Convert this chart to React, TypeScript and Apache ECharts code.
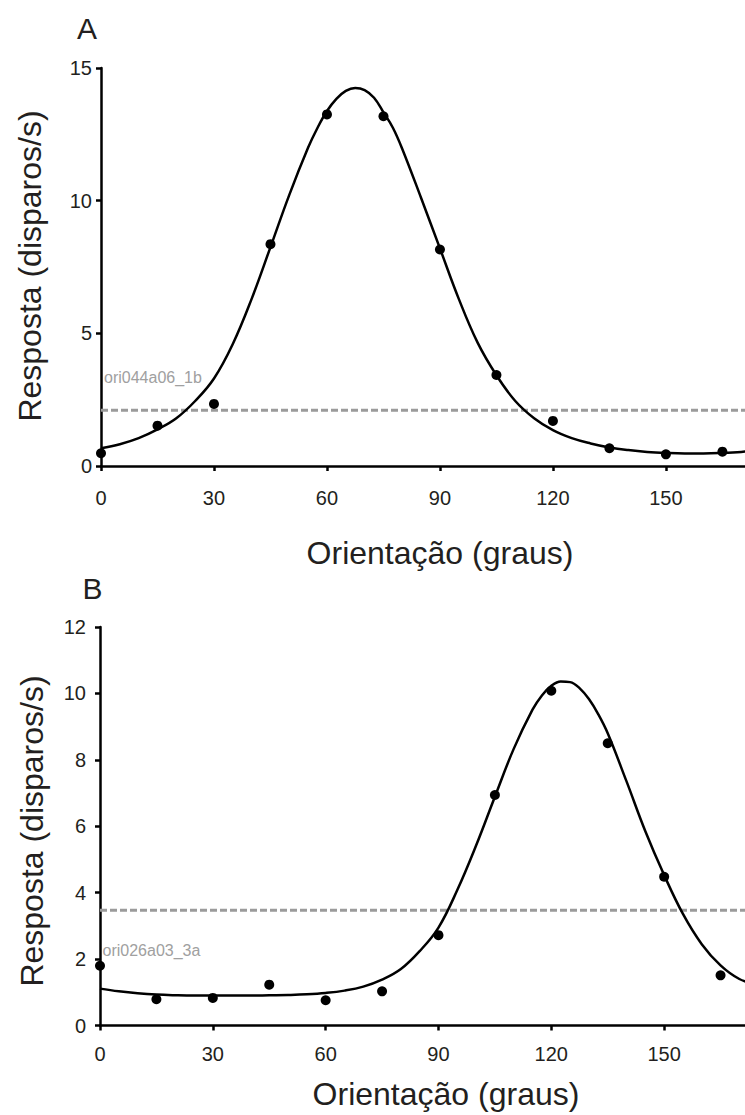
import React, { useEffect, useRef } from "react";
import * as echarts from "echarts";

// ---- data ----
const orientations = [0, 15, 30, 45, 60, 75, 90, 105, 120, 135, 150, 165];
const responseA = [0.48, 1.52, 2.34, 8.36, 13.25, 13.18, 8.16, 3.43, 1.7, 0.67, 0.44, 0.54];
const responseB = [1.8, 0.79, 0.83, 1.23, 0.76, 1.03, 2.72, 6.94, 10.08, 8.5, 4.48, 1.51];

const fitAnglesA = [0, 5, 10, 15, 20, 25, 30, 35, 40, 45, 50, 55, 57.5, 60, 62.5, 65, 67.5, 70, 72.5, 75, 77.5, 80, 85, 90, 95, 100, 105, 110, 115, 120, 125, 130, 135, 140, 145, 150, 155, 160, 165, 170, 175, 180];
const fitA = [0.67, 0.82, 1.05, 1.38, 1.8, 2.45, 3.3, 4.6, 6.3, 8.25, 10.22, 12.0, 12.75, 13.38, 13.84, 14.14, 14.25, 14.17, 13.88, 13.33, 12.75, 11.95, 10.1, 8.2, 6.3, 4.65, 3.42, 2.45, 1.8, 1.35, 1.05, 0.85, 0.7, 0.6, 0.53, 0.49, 0.47, 0.47, 0.49, 0.53, 0.6, 0.67];

const fitAnglesB = [0, 5, 10, 15, 20, 25, 30, 35, 40, 45, 50, 55, 60, 65, 70, 75, 80, 85, 90, 95, 100, 105, 110, 115, 117.5, 120, 122.5, 125, 127.5, 130, 132.5, 135, 140, 145, 150, 155, 160, 165, 170, 175, 180];
const fitB = [1.11, 1.03, 0.97, 0.93, 0.91, 0.9, 0.9, 0.9, 0.9, 0.91, 0.92, 0.94, 0.98, 1.05, 1.17, 1.38, 1.7, 2.24, 2.95, 4.08, 5.42, 6.89, 8.33, 9.51, 9.94, 10.23, 10.36, 10.34, 10.16, 9.83, 9.37, 8.8, 7.35, 5.85, 4.53, 3.36, 2.45, 1.81, 1.4, 1.22, 1.11];

const thresholdA = 2.1;
const thresholdB = 3.47;

const xTickLabels = [0, 30, 60, 90, 120, 150];
const yTicksA = [0, 5, 10, 15];
const yTicksB = [0, 2, 4, 6, 8, 10, 12];

const panelLabels = ["A", "B"];
const cellNames = ["ori044a06_1b", "ori026a03_3a"];
const xTitle = "Orientação (graus)";
const yTitle = "Resposta (disparos/s)";

const FONT = "'Liberation Sans', Arial, Helvetica, sans-serif";
const TEXT = "#231f20";

function xAxisCfg(gridIndex: number, max: number, margin: number) {
  return {
    type: "value",
    gridIndex,
    min: 0,
    max,
    interval: 30,
    axisLine: { show: true, onZero: false, lineStyle: { color: "#000", width: 2.5 } },
    axisTick: { show: true, inside: false, length: 5, lineStyle: { color: "#000", width: 2.5 }, customValues: xTickLabels },
    axisLabel: { show: true, margin, fontSize: 20, fontFamily: FONT, color: TEXT, customValues: xTickLabels },
    splitLine: { show: false },
  };
}

function yAxisCfg(gridIndex: number, ticks: number[], margin: number, padTop: number) {
  const max = ticks[ticks.length - 1];
  return {
    type: "value",
    gridIndex,
    min: 0,
    max,
    interval: ticks[1] - ticks[0],
    axisLine: { show: true, onZero: false, lineStyle: { color: "#000", width: 2.5 } },
    axisTick: { show: true, inside: false, length: 5, lineStyle: { color: "#000", width: 2.5 } },
    axisLabel: { show: true, margin, fontSize: 20, fontFamily: FONT, color: TEXT, padding: [padTop, 0, 0, 0] },
    splitLine: { show: false },
  };
}

function seriesFor(idx: number, fitX: number[], fitY: number[], pts: number[], thr: number) {
  return [
    {
      type: "line",
      xAxisIndex: idx,
      yAxisIndex: idx,
      data: [[0, thr], [180, thr]],
      symbol: "none",
      lineStyle: { color: "#9b9b9b", width: 3, type: [7, 3] },
      z: 1,
      silent: true,
    },
    {
      type: "line",
      xAxisIndex: idx,
      yAxisIndex: idx,
      data: fitX.map((a, i) => [a, fitY[i]]),
      smooth: 0.4,
      symbol: "none",
      showSymbol: false,
      lineStyle: { color: "#000", width: 2.5 },
      z: 2,
      silent: true,
    },
    {
      type: "scatter",
      xAxisIndex: idx,
      yAxisIndex: idx,
      data: orientations.map((a, i) => [a, pts[i]]),
      symbol: "circle",
      symbolSize: 10,
      itemStyle: { color: "#000", opacity: 1 },
      z: 3,
      silent: true,
    },
  ];
}

function txt(text: string, x: number, y: number, size: number, color: string, align: string, rotation = 0) {
  return {
    type: "text",
    x,
    y,
    rotation,
    silent: true,
    style: {
      text,
      fontSize: size,
      fontFamily: FONT,
      fill: color,
      align,
      verticalAlign: "middle",
      textAlign: align,
      textVerticalAlign: "middle",
    },
  };
}

export default function App() {
  const ref = useRef<HTMLDivElement>(null);

  useEffect(() => {
    document.body.style.margin = "0";
    if (!ref.current) return;
    const chart = echarts.init(ref.current, undefined, { renderer: "svg" });
    chart.setOption({
      animation: false,
      backgroundColor: "#fff",
      grid: [
        { left: 101, right: 0, top: 68, height: 398, outerBoundsMode: "none", containLabel: false },
        { left: 100, right: 0, top: 627, height: 398.5, outerBoundsMode: "none", containLabel: false },
      ],
      xAxis: [xAxisCfg(0, 171, 22), xAxisCfg(1, 171.5, 18)],
      yAxis: [yAxisCfg(0, yTicksA, 9, 6), yAxisCfg(1, yTicksB, 14, 10)],
      series: [
        ...seriesFor(0, fitAnglesA, fitA, responseA, thresholdA),
        ...seriesFor(1, fitAnglesB, fitB, responseB, thresholdB),
      ],
      graphic: [
        txt(panelLabels[0], 87, 28, 30, TEXT, "center"),
        txt(panelLabels[1], 92.5, 588, 30, TEXT, "center"),
        txt(cellNames[0], 104, 377, 16, "#a0a0a0", "left"),
        txt(cellNames[1], 102.5, 950, 16, "#a0a0a0", "left"),
        txt(xTitle, 440, 553, 32, TEXT, "center"),
        txt(xTitle, 446, 1094, 32, TEXT, "center"),
        txt(yTitle, 30, 266, 32, TEXT, "center", Math.PI / 2),
        txt(yTitle, 32, 831, 32, TEXT, "center", Math.PI / 2),
      ],
    });
    return () => {
      chart.dispose();
    };
  }, []);

  return <div ref={ref} style={{ width: 745, height: 1115 }} />;
}
